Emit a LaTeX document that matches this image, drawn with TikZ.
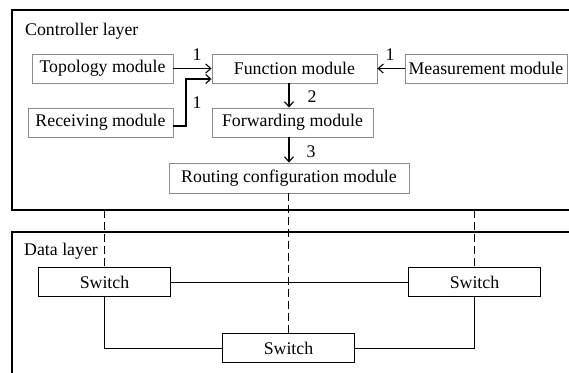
\documentclass[tikz,border=0pt]{standalone}
\usepackage{fontspec}
\setmainfont{Liberation Serif}
\usetikzlibrary{arrows.meta}
\begin{document}
\begin{tikzpicture}[x=1pt,y=-1pt,
  every node/.style={font=\fontsize{17.8}{20}\selectfont, inner sep=0pt},
  modbox/.style={draw=black!45, line width=0.9pt, minimum height=29pt, fill=white},
  swbox/.style={draw=black, line width=0.9pt, minimum width=132pt, minimum height=29pt},
  layerbox/.style={draw=black, line width=1.1pt},
  arr/.style={line width=1.1pt, -{Straight Barb[length=5pt,width=9pt]}},
  link/.style={line width=1pt},
  dashlink/.style={line width=1pt, dash pattern=on 8pt off 4pt}]
\clip (0,0) rectangle (569,372);
\fill[white] (0,0) rectangle (569,372);
% layers
\draw[layerbox] (12,10) rectangle (600,210);
\draw[layerbox] (12,232) rectangle (600,400);
\node[anchor=west] (ctl) at (25,31) {Controller layer};
\node[anchor=west] (dat) at (24,251) {Data layer};
% modules
\node[modbox, minimum width=141pt] (topo) at (102.5,68.5) {Topology module};
\node[modbox, minimum width=165pt] (func) at (294.5,68.5) {Function module};
\node[modbox, minimum width=162pt] (meas) at (486,68.5) {Measurement module};
\node[modbox, minimum width=145pt] (recv) at (100.5,122.5) {Receiving module};
\node[modbox, minimum width=161pt] (fwd) at (292.5,122.5) {Forwarding module};
\node[modbox, minimum width=240pt, minimum height=30pt] (route) at (289,178) {Routing configuration module};
% arrows
\draw[arr] (topo.east) -- (func.west);
\draw[arr] (meas.west) -- (func.east);
\draw[arr] (recv.east |- 0,126) -- (186,126) -- (186,79) -- (func.west |- 0,79);
\draw[arr] (func.south -| 289,0) -- (fwd.north -| 289,0);
\draw[arr] (fwd.south -| 289,0) -- (route.north -| 289,0);
\node (l1) at (197,55) {1};
\node (l2) at (197,103) {1};
\node (l3) at (390,55) {1};
\node (l4) at (312,97) {2};
\node (l5) at (311,152) {3};
% switches
\node[swbox] (sw1) at (104.5,282) {Switch};
\node[swbox] (sw2) at (474.5,282) {Switch};
\node[swbox] (sw3) at (288.5,348) {Switch};
\coordinate (c1) at (104.5,210);
\coordinate (c2) at (474.5,210);
\draw[dashlink] (c1) -- (sw1.north);
\draw[dashlink] (c2) -- (sw2.north);
\draw[dashlink] (route.south -| sw3.north) -- (sw3.north);
\draw[link] (sw1.east) -- (sw2.west);
\draw[link] (sw1.south) |- (sw3.west);
\draw[link] (sw2.south) |- (sw3.east);
\end{tikzpicture}
\end{document}
